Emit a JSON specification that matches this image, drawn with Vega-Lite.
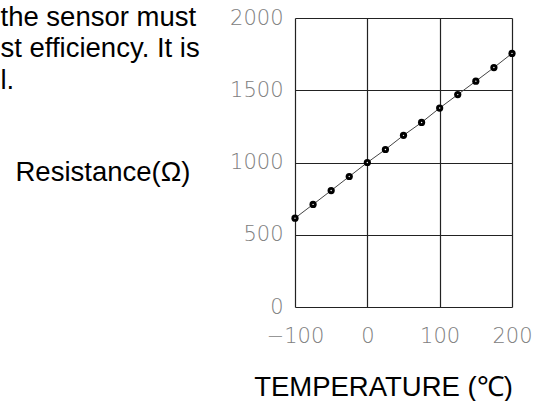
{
  "$schema": "https://vega.github.io/schema/vega-lite/v6.json",
  "width": 217,
  "height": 289,
  "autosize": {"type": "none"},
  "padding": {"left": 295, "top": 18, "right": 32, "bottom": 94},
  "background": "white",
  "data": {
    "values": [
      {"temp": -100, "r": 615},
      {"temp": -75, "r": 710},
      {"temp": -50, "r": 806},
      {"temp": -25, "r": 903},
      {"temp": 0, "r": 1000},
      {"temp": 25, "r": 1090},
      {"temp": 50, "r": 1188},
      {"temp": 75, "r": 1277},
      {"temp": 100, "r": 1377},
      {"temp": 125, "r": 1470},
      {"temp": 150, "r": 1563},
      {"temp": 175, "r": 1657},
      {"temp": 200, "r": 1755}
    ]
  },
  "layer": [
    {
      "mark": {"type": "line", "color": "#444", "strokeWidth": 1},
      "encoding": {
        "x": {
          "field": "temp",
          "type": "quantitative",
          "scale": {"domain": [-100, 200], "nice": false, "zero": false},
          "axis": {
            "values": [-100, 0, 100, 200],
            "format": "d",
            "title": "TEMPERATURE (℃)",
            "labelPadding": 18,
            "titleAngle": 0,
            "titleAlign": "center",
            "titleBaseline": "alphabetic",
            "titleX": 88,
            "titleY": 88
          }
        },
        "y": {
          "field": "r",
          "type": "quantitative",
          "scale": {"domain": [0, 2000], "nice": false, "zero": false},
          "axis": {
            "values": [0, 500, 1000, 1500, 2000],
            "format": "d",
            "title": "Resistance(Ω)",
            "labelPadding": 12,
            "titleAngle": 0,
            "titleAlign": "left",
            "titleBaseline": "alphabetic",
            "titleX": -280,
            "titleY": 162
          }
        }
      }
    },
    {
      "mark": {"type": "point", "filled": true, "color": "black", "size": 52, "opacity": 1},
      "encoding": {
        "x": {
          "field": "temp",
          "type": "quantitative",
          "axis": {
            "orient": "top",
            "grid": false,
            "labels": false,
            "title": ["the sensor must", "st efficiency. It is", "l."],
            "titleAngle": 0,
            "titleAlign": "left",
            "titleBaseline": "alphabetic",
            "titleLineHeight": 31.5,
            "titleX": -295,
            "titleY": 7
          }
        },
        "y": {"field": "r", "type": "quantitative"}
      }
    },
    {
      "mark": {"type": "point", "filled": true, "color": "white", "size": 2, "opacity": 1},
      "encoding": {
        "x": {"field": "temp", "type": "quantitative", "axis": null},
        "y": {"field": "r", "type": "quantitative"}
      }
    }
  ],
  "resolve": {"axis": {"x": "independent"}},
  "config": {
    "view": {"stroke": null},
    "axis": {
      "grid": true,
      "gridColor": "#222",
      "gridWidth": 1.2,
      "gridOpacity": 1,
      "domain": false,
      "ticks": false,
      "labelFlush": false,
      "labelOverlap": false,
      "labelFont": "DejaVu Sans",
      "labelFontSize": 21,
      "labelFontWeight": 200,
      "labelColor": "#808080",
      "titleFont": "Liberation Sans",
      "titleFontSize": 27.5,
      "titleFontWeight": "normal",
      "titleColor": "black"
    }
  }
}
